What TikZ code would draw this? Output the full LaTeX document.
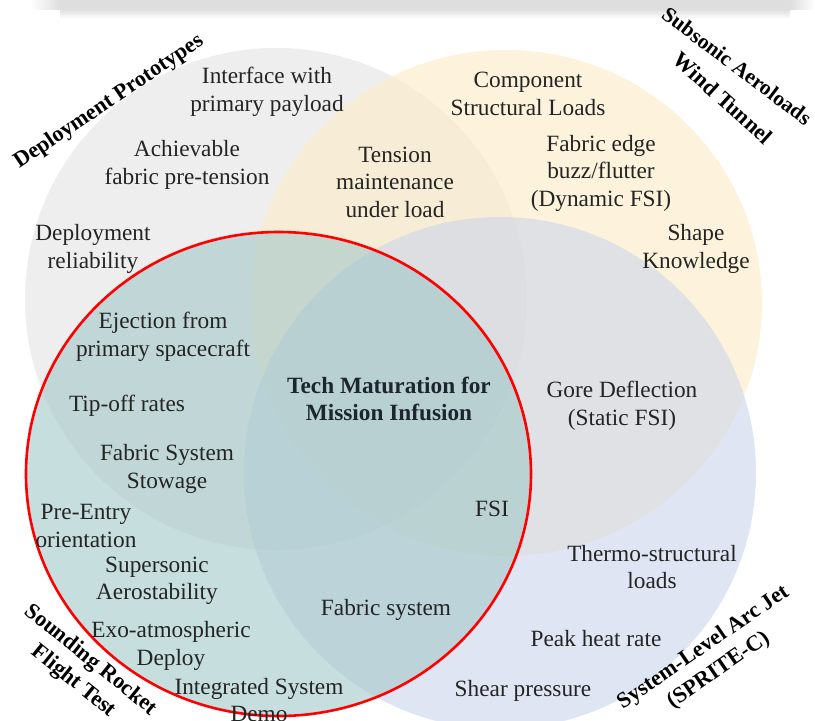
\documentclass[tikz,border=0pt]{standalone}
\usepackage{fontspec}
\setmainfont{Liberation Serif}
\definecolor{cgray}{RGB}{228,228,228}
\definecolor{cyellow}{RGB}{253,235,197}
\definecolor{cblue}{RGB}{203,213,235}
\definecolor{cgreen}{RGB}{163,200,200}
\definecolor{ctext}{RGB}{36,36,36}
\definecolor{ctech}{RGB}{28,38,48}
\definecolor{cshadow}{RGB}{222,222,222}
\definecolor{cred}{RGB}{255,0,0}
\begin{document}
\begin{tikzpicture}[x=1pt,y=-1pt,
  venn/.style={fill opacity=0.6, draw=none},
  lbl/.style={align=center, inner sep=0pt, text=ctext, font=\fontsize{23.3}{27.5}\selectfont},
  head/.style={align=center, inner sep=0pt, text=black, font=\bfseries\fontsize{22.3}{27}\selectfont},
  tech/.style={align=center, inner sep=0pt, text=ctech, font=\bfseries\fontsize{23.3}{27.5}\selectfont}]
\useasboundingbox (0,0) rectangle (815,721);
\fill[white] (0,0) rectangle (815,721);
% top shadow band
\fill[cshadow] (60,0) rectangle (790,9);
\shade[top color=cshadow, bottom color=white] (60,9) rectangle (790,19);
\shade[left color=white, right color=cshadow] (30,0) rectangle (60,9);
\shade[left color=cshadow, right color=white] (790,0) rectangle (815,9);
% circles
\coordinate (cdep) at (276,299);
\coordinate (csub) at (506,303);
\coordinate (carc) at (500,473);
\coordinate (csrt) at (278.5,474);
\fill[venn, cgray] (cdep) circle[radius=251pt];
\fill[venn, cyellow] (csub) ellipse[x radius=256pt, y radius=253pt];
\fill[venn, cblue] (carc) circle[radius=256pt];
\fill[venn, cgreen] (csrt) ellipse[x radius=252.5pt, y radius=242pt];
\draw[cred, line width=2.6pt] (csrt) ellipse[x radius=252.5pt, y radius=242pt];
% category labels
\node[head, rotate=34] (hdep) at (109,102) {Deployment Prototypes};
\node[head, rotate=-37, font=\bfseries\fontsize{21.5}{26}\selectfont] (hsub1) at (737,66) {Subsonic Aeroloads};
\node[head, rotate=-42] (hsub2) at (723,98) {Wind Tunnel};
\node[head, rotate=-39] (hsrt) at (82,671) {Sounding Rocket\\Flight Test};
\node[head, rotate=34.5] (harc) at (711,659) {System-Level Arc Jet\\(SPRITE-C)};
% items
\node[lbl] (t1) at (267,92) {Interface with\\primary payload};
\node[lbl] (t2) at (187,165) {Achievable\\fabric pre-tension};
\node[lbl] (t3) at (93,249) {Deployment\\reliability};
\node[lbl] (t4) at (528,94) {Component\\Structural Loads};
\node[lbl] (t5) at (395,182) {Tension\\maintenance\\under load};
\node[lbl] (t6) at (601,173) {Fabric edge\\buzz/flutter\\(Dynamic FSI)};
\node[lbl] (t7) at (696,249) {Shape\\Knowledge};
\node[lbl] (t8) at (163,337) {Ejection from\\primary spacecraft};
\node[tech] (t9) at (389,399) {Tech Maturation for\\Mission Infusion};
\node[lbl] (t10) at (622,406) {Gore Deflection\\(Static FSI)};
\node[lbl] (t11) at (127,406) {Tip-off rates};
\node[lbl] (t12) at (167,469) {Fabric System\\Stowage};
\node[lbl] (t13) at (492,509) {FSI};
\node[lbl] (t14) at (86,526) {Pre-Entry\\orientation};
\node[lbl] (t15) at (652,567) {Thermo-structural\\loads};
\node[lbl] (t16) at (157,581) {Supersonic\\Aerostability};
\node[lbl] (t17) at (386,610) {Fabric system};
\node[lbl] (t18) at (171,646) {Exo-atmospheric\\Deploy};
\node[lbl] (t19) at (596,639) {Peak heat rate};
\node[lbl] (t20) at (259,700) {Integrated System\\Demo};
\node[lbl] (t21) at (523,691) {Shear pressure};
\end{tikzpicture}
\end{document}
